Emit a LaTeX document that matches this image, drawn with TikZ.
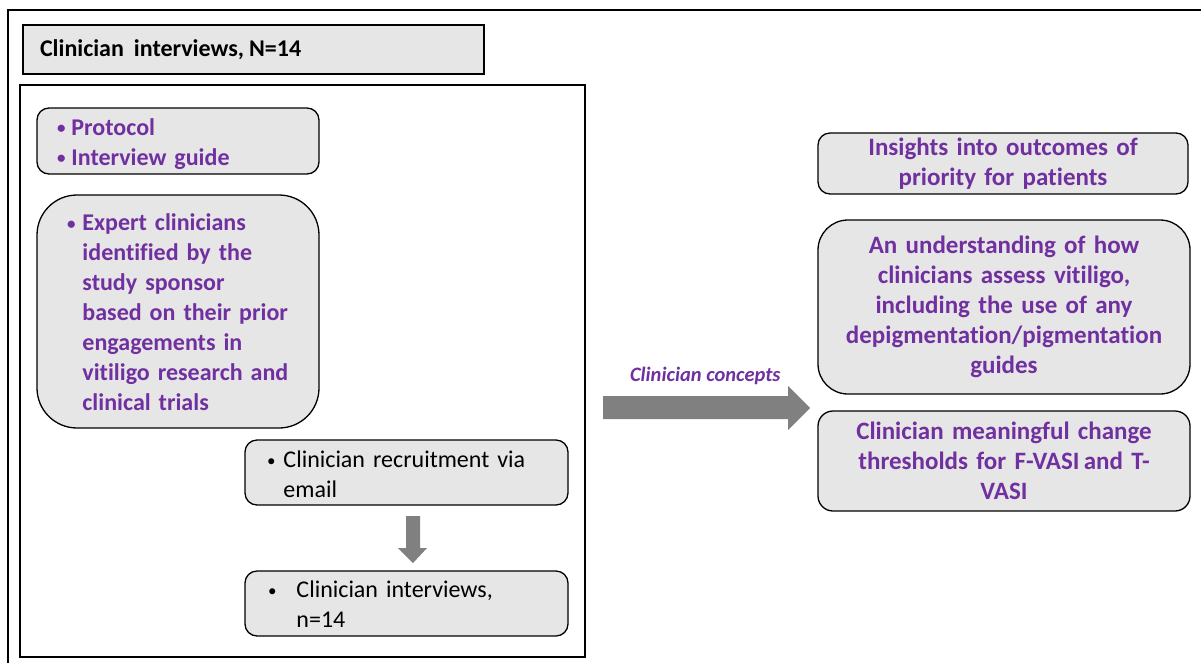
\documentclass[tikz,border=0pt]{standalone}
\usepackage{fontspec}
\setmainfont{Carlito}[Ligatures=NoCommon]
\definecolor{vpurple}{HTML}{7030A0}
\definecolor{boxgray}{HTML}{E6E6E6}
\definecolor{arrgray}{HTML}{808080}
\newcommand{\bul}{{\fontsize{17}{30}\selectfont\raisebox{1.5pt}{•}}}
\newcommand{\lowerby}[2]{\raisebox{0pt}[\height][\dimexpr\depth-#1\relax]{#2}}
\begin{document}
\begin{tikzpicture}[x=1pt,y=-1pt,
  every node/.style={inner sep=0pt,outer sep=0pt},
  frame/.style={draw=black,line width=1.5pt},
  rbox/.style={draw=black,line width=1.3pt,fill=boxgray,rounded corners=12pt,anchor=north west,
    font=\fontsize{24}{30}\selectfont},
  ptext/.style={text=vpurple,font=\fontsize{25}{30}\selectfont\bfseries},
  bigarrow/.style={fill=arrgray,draw=none}]
\useasboundingbox (0,0) rectangle (1201,662);
% outer frame (only top and left visible)
\draw[line width=1.3pt] (8,700) -- (8,10) -- (1210,10);
% title
\node[frame,fill=boxgray,anchor=north west,minimum width=461pt,minimum height=49pt,
  text width=431pt,inner xsep=15pt,align=left,font=\fontsize{24}{28}\selectfont\bfseries] (title) at (23,25) {\hspace{2pt}Clinician\hspace{10pt}interviews,\hspace{5pt}N=14};
% inner frame
\node[draw=black,line width=1.5pt,anchor=north west,minimum width=565pt,minimum height=572pt] (inner) at (20,85) {};
% protocol box
\node[rbox,minimum width=282pt,minimum height=66pt,text width=262pt,inner xsep=10pt,align=left] (proto) at (37,108)
 {\lowerby{6pt}{\color{vpurple}\bfseries\begin{tabular}{@{\hspace{10pt}}l@{\hspace{6pt}}l@{}}
  \bul & Protocol\\
  \bul & Interview guide
  \end{tabular}}};
% expert box
\node[rbox,rounded corners=40pt,minimum width=282pt,minimum height=233pt,text width=262pt,inner xsep=10pt,align=left] (expert) at (37,195)
 {\lowerby{6pt}{\color{vpurple}\bfseries\begin{tabular}{@{\hspace{20pt}}l@{\hspace{7pt}}l@{}}
  \bul & Expert clinicians\\
    & identified by the\\
    & study sponsor\\
    & based on their prior\\
    & engagements in\\
    & vitiligo research and\\
    & clinical trials
  \end{tabular}}};
% recruitment box
\node[rbox,minimum width=323pt,minimum height=65pt,text width=303pt,inner xsep=10pt,align=left] (recruit) at (245,440)
 {\lowerby{8pt}{\begin{tabular}{@{\hspace{12pt}}l@{\hspace{8pt}}l@{}}
  \bul & Clinician recruitment via\\
    & email
  \end{tabular}}};
% interviews box
\node[rbox,minimum width=323pt,minimum height=65pt,text width=303pt,inner xsep=10pt,align=left] (interv) at (245,571)
 {\lowerby{6pt}{\begin{tabular}{@{\hspace{13pt}}l@{\hspace{20pt}}l@{}}
  \bul & Clinician interviews,\\
    & n=14
  \end{tabular}}};
% down arrow
\fill[bigarrow] (406,516) -- (420,516) -- (420,548) -- (427,548) -- (413,563) -- (398,548) -- (406,548) -- cycle;
% right boxes
\node[rbox,minimum width=370pt,minimum height=61pt,text width=350pt,inner xsep=10pt,align=center,ptext] (insight) at (818,133)
 {Insights into outcomes of\\priority for patients};
\node[rbox,rounded corners=30pt,minimum width=372pt,minimum height=174pt,text width=352pt,inner xsep=10pt,align=center,ptext] (underst) at (818,220)
 {An understanding of how\\clinicians assess vitiligo,\\including the use of any\\depigmentation/pigmentation\\guides};
\node[rbox,rounded corners=15pt,minimum width=372pt,minimum height=100pt,text width=352pt,inner xsep=10pt,align=center,ptext] (change) at (818,411)
 {Clinician meaningful change\\thresholds for F-VASI\,and T-\\VASI};
% right arrow
\fill[bigarrow] (603,396) -- (788,396) -- (788,386) -- (810,408) -- (788,430) -- (788,419) -- (603,419) -- cycle;
\node[anchor=base west,text=vpurple,font=\fontsize{20.5}{24}\selectfont\bfseries\itshape] (concepts) at (630,381) {Clinician concepts};
\end{tikzpicture}
\end{document}
